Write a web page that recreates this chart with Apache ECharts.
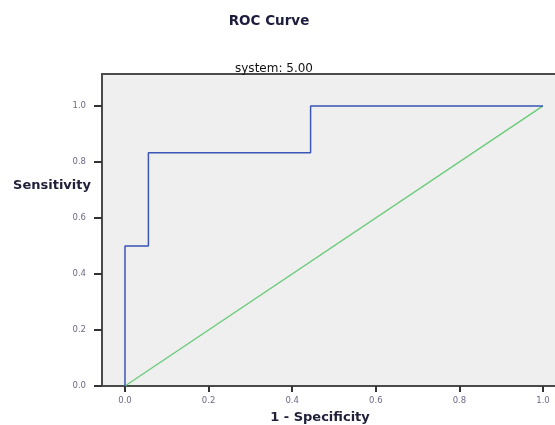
<!DOCTYPE html>
<html lang="en">
<head>
  <meta charset="UTF-8">
  <title>ROC Curve</title>
  <script src="https://cdn.jsdelivr.net/npm/echarts@6/dist/echarts.min.js"></script>
</head>
<body style="margin:0;background:#fff;">
  <div id="main" style="width:555px;height:425px;"></div>
  <script>
    // ROC curve points (1 - specificity, sensitivity)
    const fpr = [0, 0, 0.056, 0.056, 0.444, 0.444, 1];
    const tpr = [0, 0.5, 0.5, 0.833, 0.833, 1, 1];
    // reference (chance) diagonal
    const refX = [0, 1];
    const refY = [0, 1];
    const tickValues = [0, 0.2, 0.4, 0.6, 0.8, 1.0];

    const myChart = echarts.init(document.getElementById('main'));

    const labelStyle = {
      fontFamily: 'DejaVu Sans',
      fontSize: 8.5,
      color: '#6a6a88'
    };
    const nameStyle = { fontFamily: 'DejaVu Sans', fontSize: 13, fontWeight: 'bold', color: '#20203a' };

    const options = {
      backgroundColor: '#fff',
      animation: false,
      title: [
        {
          text: 'ROC Curve',
          left: 264,
          top: 9,
          textAlign: 'center',
          textStyle: { fontFamily: 'DejaVu Sans', fontSize: 13.5, fontWeight: 'bold', color: '#1c1c3c' }
        },
        {
          text: 'system: 5.00',
          left: 269,
          top: 58,
          textAlign: 'center',
          textStyle: { fontFamily: 'DejaVu Sans', fontSize: 12, fontWeight: 'normal', color: '#111' }
        },
        {
          text: 'Sensitivity',
          left: 47,
          top: 174,
          textAlign: 'center',
          textStyle: nameStyle
        }
      ],
      grid: {
        left: 102,
        top: 74,
        width: 464,
        height: 312,
        outerBoundsMode: 'none',
        containLabel: false,
        show: true,
        backgroundColor: '#efefef',
        borderColor: '#4a4a4a',
        borderWidth: 2
      },
      xAxis: {
        type: 'value',
        min: -0.055,
        max: 1.055,
        name: '1 - Specificity',
        nameLocation: 'middle',
        nameGap: 25,
        nameTextStyle: { ...nameStyle, padding: [0, 28, 0, 0] },
        axisLine: { show: false, onZero: false },
        axisTick: { show: true, length: 6, customValues: tickValues, lineStyle: { color: '#333', width: 2 } },
        axisLabel: { customValues: tickValues, margin: 10, formatter: v => v.toFixed(1), ...labelStyle },
        splitLine: { show: false }
      },
      yAxis: {
        type: 'value',
        min: 0,
        max: 1.114,
        axisLine: { show: false, onZero: false },
        axisTick: { show: true, length: 8, customValues: tickValues, lineStyle: { color: '#333', width: 2 } },
        axisLabel: { customValues: tickValues, margin: 16, formatter: v => v.toFixed(1), ...labelStyle },
        splitLine: { show: false }
      },
      series: [
        {
          name: 'system',
          type: 'line',
          symbol: 'none',
          lineStyle: { color: '#3b56b5', width: 1.5 },
          data: fpr.map((x, i) => [x, tpr[i]]),
          z: 3
        },
        {
          name: 'Reference Line',
          type: 'line',
          symbol: 'none',
          lineStyle: { color: '#6dcc7c', width: 1.5 },
          data: refX.map((x, i) => [x, refY[i]]),
          z: 2
        }
      ]
    };

    myChart.setOption(options);
  </script>
</body>
</html>
